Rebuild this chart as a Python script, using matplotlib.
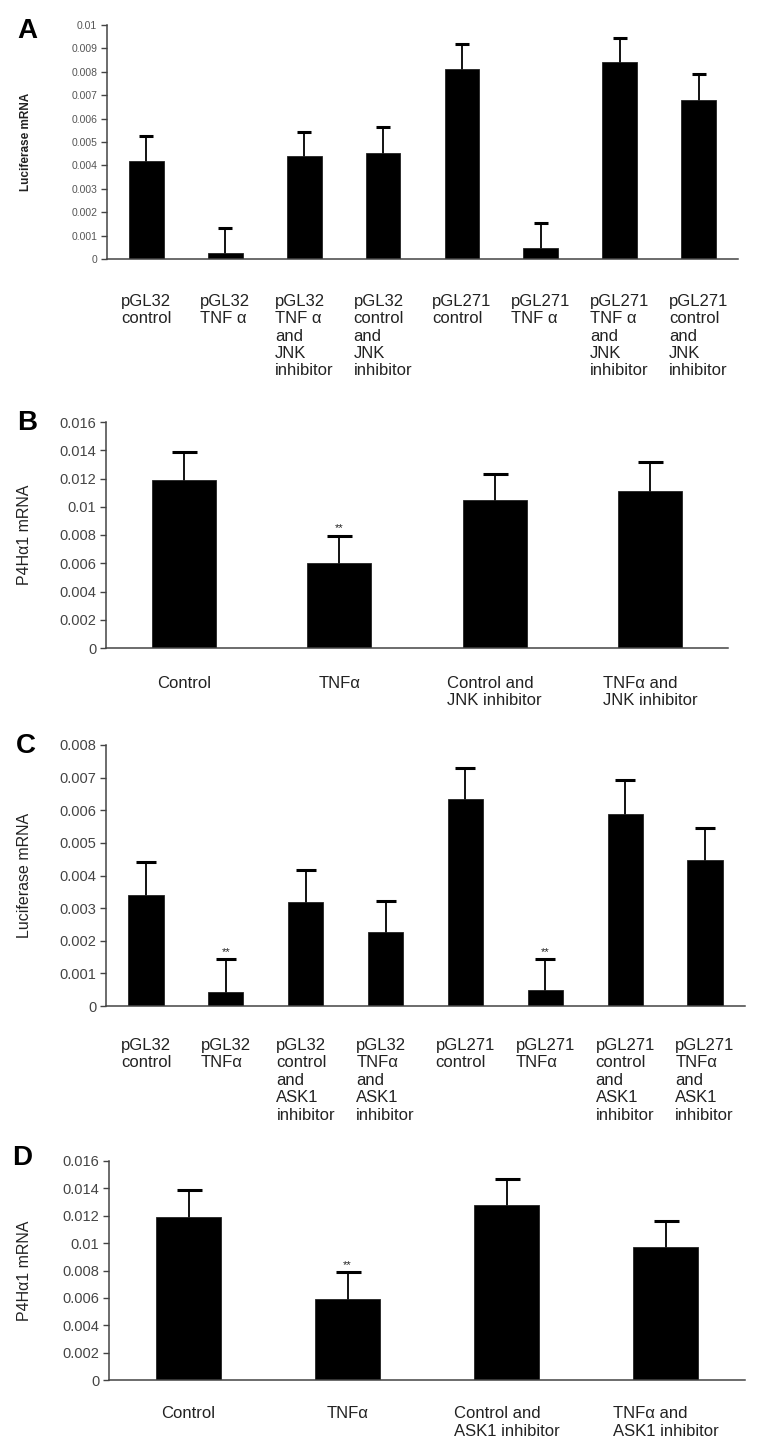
import numpy as np
import matplotlib
matplotlib.use('Agg')
from matplotlib import pyplot as plt
from matplotlib.ticker import MultipleLocator, FuncFormatter

plt.rcParams['font.family'] = ['Liberation Sans', 'DejaVu Sans']

W, H = 762, 1453

# ---- panel A: luciferase, JNK inhibitor
a_labels = ['pGL32\ncontrol', 'pGL32\nTNF α', 'pGL32\nTNF α\nand\nJNK\ninhibitor',
            'pGL32\ncontrol\nand\nJNK\ninhibitor', 'pGL271\ncontrol', 'pGL271\nTNF α',
            'pGL271\nTNF α\nand\nJNK\ninhibitor', 'pGL271\ncontrol\nand\nJNK\ninhibitor']
a_means = [0.0042, 0.00025, 0.0044, 0.00455, 0.0081, 0.00048, 0.0084, 0.0068]
a_sem = [0.00106, 0.00108, 0.00104, 0.0011, 0.00107, 0.00107, 0.00106, 0.0011]
a_sig = []

# ---- panel B: P4Ha1, JNK inhibitor
b_labels = ['Control', 'TNFα', 'Control and\nJNK inhibitor', 'TNFα and\nJNK inhibitor']
b_means = [0.0119, 0.006, 0.01045, 0.0111]
b_sem = [0.002, 0.00196, 0.0019, 0.00204]
b_sig = [1]

# ---- panel C: luciferase, ASK1 inhibitor
c_labels = ['pGL32\ncontrol', 'pGL32\nTNFα', 'pGL32\ncontrol\nand\nASK1\ninhibitor',
            'pGL32\nTNFα\nand\nASK1\ninhibitor', 'pGL271\ncontrol', 'pGL271\nTNFα',
            'pGL271\ncontrol\nand\nASK1\ninhibitor', 'pGL271\nTNFα\nand\nASK1\ninhibitor']
c_means = [0.00339, 0.00044, 0.0032, 0.00226, 0.00634, 0.00048, 0.0059, 0.00449]
c_sem = [0.00101, 0.00099, 0.00096, 0.00096, 0.00096, 0.00096, 0.00102, 0.00097]
c_sig = [1, 5]

# ---- panel D: P4Ha1, ASK1 inhibitor
d_labels = ['Control', 'TNFα', 'Control and\nASK1 inhibitor', 'TNFα and\nASK1 inhibitor']
d_means = [0.0119, 0.0059, 0.01277, 0.0097]
d_sem = [0.002, 0.002, 0.00195, 0.00195]
d_sig = [1]


def make_axes(fig, left, top, right, bottom):
    # pixel box -> figure fraction
    return fig.add_axes([left / W, 1 - bottom / H, (right - left) / W, (bottom - top) / H])


def fmt_tick(v, pos):
    return f'{round(v, 6):g}'


def draw_panel(fig, box, labels, means, sem, sig, ymax, ystep, ylabel, letter,
               letter_xy, width=0.42, tick_size=10.5, tick_color='#444444',
               ylabel_kw=None, label_pad=20, capsize=8):
    ax = make_axes(fig, *box)
    x = np.arange(len(means))
    # symmetric bars drawn under the columns, so only the upper half shows
    ax.errorbar(x, means, yerr=sem, fmt='none', ecolor='black',
                elinewidth=1.3, capsize=capsize, capthick=2.2, zorder=1)
    ax.bar(x, means, width=width, color='black', edgecolor='#222222', lw=0.6, zorder=2)
    for i in sig:
        ax.annotate('**', (i, means[i] + sem[i]), xytext=(0, 1.5),
                    textcoords='offset points', ha='center', va='bottom',
                    fontsize=8, color='#222222')
    ax.set_xlim(-0.5, len(means) - 0.5)
    ax.set_ylim(0, ymax)
    ax.yaxis.set_major_locator(MultipleLocator(ystep))
    ax.yaxis.set_major_formatter(FuncFormatter(fmt_tick))
    ax.set_xticks(x, labels, fontsize=12, ha='center', multialignment='left',
                  linespacing=1.2, color='#222222')
    ax.tick_params(axis='x', length=0, pad=label_pad)
    ax.tick_params(axis='y', length=4, width=1, color='#444444',
                   labelsize=tick_size, labelcolor=tick_color, pad=3)
    for s in ['top', 'right']:
        ax.spines[s].set_visible(False)
    for s in ['left', 'bottom']:
        ax.spines[s].set_color('#444444')
        ax.spines[s].set_linewidth(1.1)
        ax.spines[s].set_zorder(3)
    kw = {'fontsize': 11.5, 'color': '#222222'}
    if ylabel_kw:
        kw.update(ylabel_kw)
    ax.set_ylabel(ylabel, **kw)
    ax.yaxis.set_label_coords((32 - box[0]) / (box[2] - box[0]), 0.5)
    fig.text(letter_xy[0] / W, 1 - letter_xy[1] / H, letter, fontsize=20,
             fontweight='bold', ha='center', va='center')
    return ax


def main():
    fig = plt.figure(figsize=(W / 100, H / 100), dpi=100)

    draw_panel(fig, (107, 25, 738, 259), a_labels, a_means, a_sem, a_sig,
               0.01, 0.001, 'Luciferase mRNA', 'A', (27, 31), width=0.44,
               tick_size=7.5, tick_color='#555555',
               ylabel_kw={'fontsize': 8.5, 'fontweight': 'bold'},
               label_pad=25, capsize=5)
    draw_panel(fig, (106, 422, 728, 648), b_labels, b_means, b_sem, b_sig,
               0.016, 0.002, 'P4Hα1 mRNA', 'B', (27, 423), width=0.41,
               label_pad=20, capsize=9)
    draw_panel(fig, (106, 745, 745, 1006), c_labels, c_means, c_sem, c_sig,
               0.008, 0.001, 'Luciferase mRNA', 'C', (26, 746), width=0.44,
               label_pad=23, capsize=7)
    draw_panel(fig, (109, 1161, 745, 1380), d_labels, d_means, d_sem, d_sig,
               0.016, 0.002, 'P4Hα1 mRNA', 'D', (22, 1158), width=0.415,
               label_pad=19, capsize=9)

    fig.savefig('out.png', dpi=100)


if __name__ == "__main__":
    main()
